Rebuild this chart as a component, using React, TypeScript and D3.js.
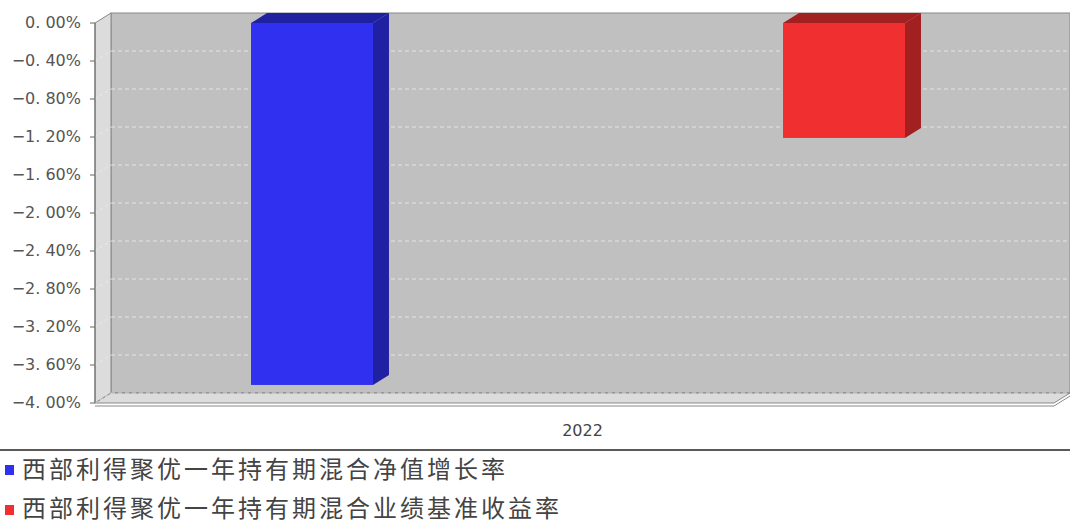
import * as d3 from "d3";

const categories = ["2022"];
const seriesNames = ["西部利得聚优一年持有期混合净值增长率", "西部利得聚优一年持有期混合业绩基准收益率"];
const seriesValues = [-3.81, -1.21];
const seriesColors = ["#3030f0", "#f03030"];
const tickValues = [0, -0.4, -0.8, -1.2, -1.6, -2.0, -2.4, -2.8, -3.2, -3.6, -4.0];

const W = 1070, H = 523;
const left = 95, right = 1054, top = 23, bottom = 403;
const dx = 16, dy = 10;

export default function App() {
  const y = d3.scaleLinear().domain([0, -4]).range([top, bottom]);
  const x0 = d3.scaleBand().domain(categories).range([left, right]);
  const x1 = d3.scaleBand().domain(seriesNames).range([156, 810]).paddingInner(0.7707).paddingOuter(0);
  const side = (c: string) => d3.color(c)!.darker(1.1).toString();
  return (
    <svg width={W} height={H} style={{ position: "absolute", left: 0, top: 0, background: "#fff" }}>
      <rect x={left + dx} y={top - dy} width={right - left} height={bottom - top} fill="#c0c0c0" stroke="#888" />
      <polygon points={`${left},${top} ${left + dx},${top - dy} ${left + dx},${bottom - dy} ${left},${bottom}`} fill="#dcdcdc" stroke="#888" />
      <polygon points={`${left},${bottom} ${left + dx},${bottom - dy} ${right + dx},${bottom - dy} ${right},${bottom}`} fill="#dcdcdc" stroke="#888" />
      {tickValues.slice(1).map((t) => (
        <g key={t}>
          <line x1={left + dx} x2={right + dx} y1={y(t) - dy} y2={y(t) - dy} stroke="#eee" strokeDasharray="4,3" strokeWidth={0.8} />
          <line x1={left} x2={left + dx} y1={y(t)} y2={y(t) - dy} stroke="#eee" strokeDasharray="3,3" strokeWidth={0.8} />
        </g>
      ))}
      <line x1={left} x2={right} y1={bottom + 3} y2={bottom + 3} stroke="#888" />
      <line x1={right} x2={right + dx} y1={bottom + 3} y2={bottom - dy + 3} stroke="#888" />
      <line x1={left} x2={left} y1={top} y2={bottom} stroke="#666" />
      {tickValues.map((t) => (
        <g key={t}>
          <line x1={left - 5} x2={left} y1={y(t)} y2={y(t)} stroke="#666" />
          <text x={left - 14} y={y(t) + 5} textAnchor="end" fontFamily="DejaVu Sans" fontSize={16} fill="#555">
            {(t === 0 ? "0.00" : t.toFixed(2).replace("-", "−")).replace(".", ". ") + "%"}
          </text>
        </g>
      ))}
      {categories.map((c) =>
        seriesNames.map((s, i) => {
          const bx = x0(c)! + x1(s)!;
          const bw = x1.bandwidth();
          const y0 = y(0), yv = y(seriesValues[i]);
          const col = seriesColors[i];
          return (
            <g key={s}>
              <polygon points={`${bx + bw},${y0} ${bx + bw + dx},${y0 - dy} ${bx + bw + dx},${yv - dy} ${bx + bw},${yv}`} fill={side(col)} />
              <polygon points={`${bx},${y0} ${bx + dx},${y0 - dy} ${bx + bw + dx},${y0 - dy} ${bx + bw},${y0}`} fill={side(col)} />
              <rect x={bx} y={y0} width={bw} height={yv - y0} fill={col} />
            </g>
          );
        })
      )}
      {categories.map((c) => (
        <text key={c} x={x0(c)! + x0.bandwidth() / 2 + 8} y={436} textAnchor="middle" fontFamily="DejaVu Sans" fontSize={16} fill="#444">{c}</text>
      ))}
      <line x1={0} x2={W} y1={450} y2={450} stroke="#222" strokeWidth={1.5} />
      {seriesNames.map((s, i) => (
        <g key={s}>
          <rect x={5} y={465 + i * 40} width={9} height={10} fill={seriesColors[i]} />
          <text x={22} y={478 + i * 39} fontFamily="Noto Sans CJK SC" fontSize={24} letterSpacing={3} fill="#444">{s}</text>
        </g>
      ))}
    </svg>
  );
}
